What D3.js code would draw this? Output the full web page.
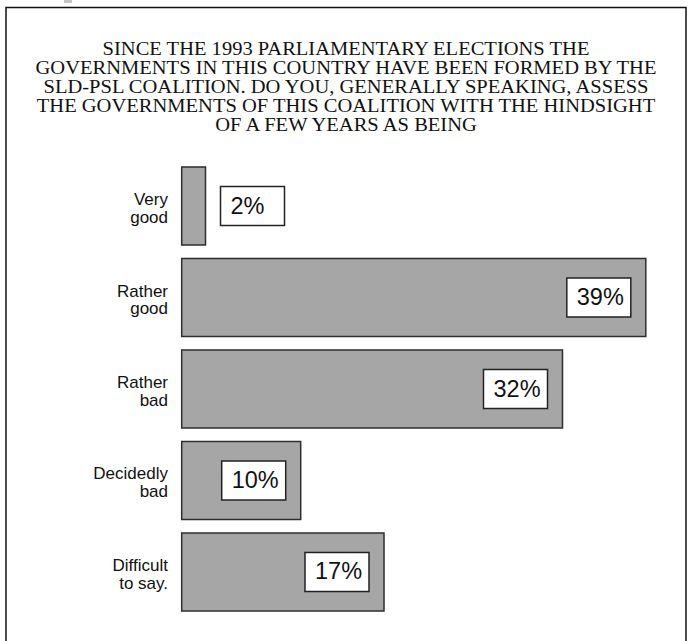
<!DOCTYPE html>
<html>
<head>
<meta charset="utf-8">
<script src="https://cdn.jsdelivr.net/npm/d3@7"></script>
<style>
  html, body { margin: 0; padding: 0; background: #fff; }
  svg { display: block; }
</style>
</head>
<body>
<svg id="chart" width="691" height="641"></svg>
<script>
// Survey answers and their shares (%)
const categories = [
  ["Very", "good"],
  ["Rather", "good"],
  ["Rather", "bad"],
  ["Decidedly", "bad"],
  ["Difficult", "to say."]
];
const values = [2, 39, 32, 10, 17];
const valueLabels = ["2%", "39%", "32%", "10%", "17%"];
const titleLines = [
  "SINCE THE 1993 PARLIAMENTARY ELECTIONS THE",
  "GOVERNMENTS IN THIS COUNTRY HAVE BEEN FORMED BY THE",
  "SLD-PSL COALITION. DO YOU, GENERALLY SPEAKING, ASSESS",
  "THE GOVERNMENTS OF THIS COALITION WITH THE HINDSIGHT",
  "OF A FEW YEARS AS BEING"
];

const svg = d3.select("#chart");

// small grey fleck at the very top edge
svg.append("rect").attr("x", 64).attr("y", 0).attr("width", 8).attr("height", 3)
  .attr("fill", "#c4c4c4");

// outer frame (open at the bottom)
svg.append("path")
  .attr("d", "M6,641 V7.5 H686 V641")
  .attr("fill", "none").attr("stroke", "#111").attr("stroke-width", 1.5);

// title, centred, tightly leaded; glyphs slightly widened
const titleWiden = 1.08;
svg.append("g")
  .selectAll("text")
  .data(titleLines)
  .join("text")
  .attr("x", 346)
  .attr("y", (d, i) => 54.5 + i * 19)
  .attr("text-anchor", "middle")
  .attr("font-family", "'Liberation Serif', 'Times New Roman', serif")
  .attr("font-size", 19)
  .attr("fill", "#111")
  .text(d => d)
  .each(function() {
    const w = this.getComputedTextLength();
    d3.select(this)
      .attr("textLength", w * titleWiden)
      .attr("lengthAdjust", "spacingAndGlyphs");
  });

const idx = d3.range(values.length);
const x = d3.scaleLinear().domain([0, 40]).range([181.7, 181.7 + 476]);
const y = d3.scaleBand().domain(idx).range([167, 611]).paddingInner(0.1475).paddingOuter(0);

// bars
svg.append("g")
  .selectAll("rect")
  .data(idx)
  .join("rect")
  .attr("x", x(0))
  .attr("y", i => y(i))
  .attr("width", i => x(values[i]) - x(0))
  .attr("height", y.bandwidth())
  .attr("fill", "#a6a6a6")
  .attr("stroke", "#2e2e2e")
  .attr("stroke-width", 1.5);

// category labels
const lab = svg.append("g")
  .selectAll("text")
  .data(idx)
  .join("text")
  .attr("text-anchor", "end")
  .attr("font-family", "'Liberation Sans', Arial, sans-serif")
  .attr("font-size", 17)
  .attr("fill", "#111");
lab.each(function(i) {
  const t = d3.select(this);
  const cy = y(i) + y.bandwidth() / 2;
  categories[i].forEach((line, k) => {
    t.append("tspan").attr("x", 168).attr("y", cy - 1 + k * 17.7).text(line);
  });
});

// value boxes
const boxW = 64, boxH = 39, gap = 15;
const boxX = i => {
  const end = x(values[i]);
  return (end - x(0) > boxW + 2 * gap) ? end - gap - boxW : end + gap;
};
const boxes = svg.append("g")
  .selectAll("g")
  .data(idx)
  .join("g")
  .attr("transform", i => `translate(${boxX(i)},${y(i) + y.bandwidth() / 2 - boxH / 2})`);
boxes.append("rect")
  .attr("width", boxW).attr("height", boxH)
  .attr("fill", "#fff").attr("stroke", "#222").attr("stroke-width", 1.5);
boxes.append("text")
  .attr("x", 10).attr("y", 27)
  .attr("font-family", "'Liberation Sans', Arial, sans-serif")
  .attr("font-size", 23.5)
  .attr("fill", "#111")
  .text(i => valueLabels[i]);
</script>
</body>
</html>
